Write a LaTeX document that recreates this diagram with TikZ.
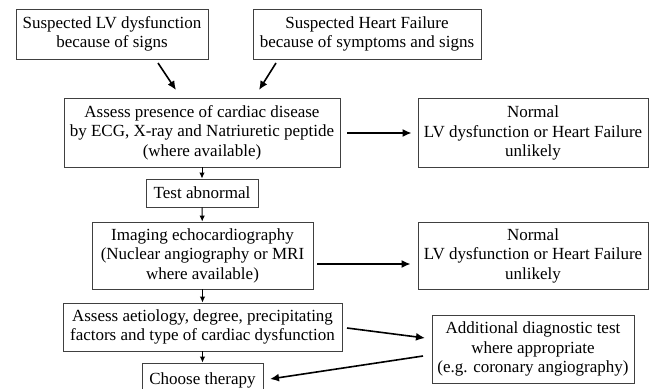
\documentclass[tikz,border=0pt]{standalone}
\usepackage{fontspec}
\setmainfont{Liberation Serif}
\usetikzlibrary{arrows.meta}

\tikzset{
  box/.style={draw=black!75, line width=0.9pt, align=center, inner sep=0pt,
    font=\fontsize{17}{19.5}\selectfont},
  arr/.style={-{Latex[length=9pt,width=8pt]}, line width=1.6pt},
  tinyarr/.style={-{Latex[length=6pt,width=5.5pt]}, line width=1pt}
}

\begin{document}
\begin{tikzpicture}[x=1pt,y=-1pt]
  \useasboundingbox (0,0) rectangle (650,388);

  \node[box, minimum width=192pt, minimum height=50pt] (suslv) at (112,34)
    {Suspected LV dysfunction\\because of signs};
  \node[box, minimum width=228pt, minimum height=50pt] (sushf) at (367,34)
    {Suspected Heart Failure\\because of symptoms and signs};

  \node[box, minimum width=276pt, minimum height=69pt] (assess) at (202,132.5)
    {Assess presence of cardiac disease\\by ECG, X-ray and Natriuretic peptide\\(where available)};
  \node[box, minimum width=230pt, minimum height=69pt] (normone) at (533,133)
    {Normal\\LV dysfunction or Heart Failure\\unlikely};

  \node[box, minimum width=112pt, minimum height=28pt] (test) at (202,193)
    {Test abnormal};

  \node[box, minimum width=221pt, minimum height=67pt] (imaging) at (202.5,255.5)
    {Imaging echocardiography\\(Nuclear angiography or MRI\\where available)};
  \node[box, minimum width=230pt, minimum height=67pt] (normtwo) at (533,255.5)
    {Normal\\LV dysfunction or Heart Failure\\unlikely};

  \node[box, minimum width=279pt, minimum height=48pt] (aetiol) at (202.5,327)
    {Assess aetiology, degree, precipitating\\factors and type of cardiac dysfunction};
  \node[box, minimum width=202pt, minimum height=68pt] (addtest) at (533,349)
    {Additional diagnostic test\\where appropriate\\(e.g. coronary angiography)};

  \node[box, minimum width=121pt, minimum height=34pt] (therapy) at (202.5,380)
    {Choose therapy};

  % slanted connectors
  \coordinate (lvfrom) at (158,63);
  \coordinate (lvto) at (176,90);
  \coordinate (hffrom) at (276,63);
  \coordinate (hfto) at (259,90);
  \coordinate (aetfrom) at (347,328);
  \coordinate (addto) at (425,338);
  \coordinate (addfrom) at (423,356);
  \coordinate (thto) at (270,379);

  \draw[arr] (lvfrom) -- (lvto);
  \draw[arr] (hffrom) -- (hfto);

  \draw[arr, shorten <=7pt, shorten >=6pt] (assess.east |- 0,133) -- (normone.west |- 0,133);
  \draw[arr, shorten <=4pt, shorten >=7pt] (imaging.east |- 0,264) -- (normtwo.west |- 0,264);

  \draw[tinyarr] (assess) -- (test);
  \draw[tinyarr] (test) -- (imaging);
  \draw[tinyarr] (imaging) -- (aetiol);
  \draw[tinyarr] (aetiol) -- (therapy);

  \draw[arr] (aetfrom) -- (addto);
  \draw[arr] (addfrom) -- (thto);
\end{tikzpicture}
\end{document}
